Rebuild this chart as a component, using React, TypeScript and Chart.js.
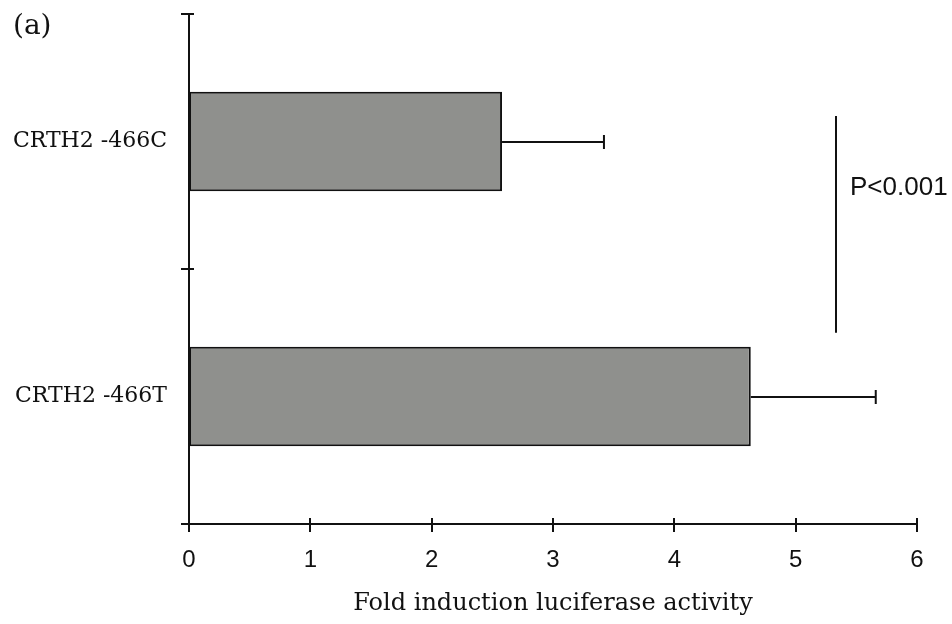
import React, { useEffect, useRef } from "react";
import { Chart, registerables } from "chart.js";

Chart.register(...registerables);

// Promoter constructs and their luciferase readouts (mean ± SD)
const categories = ["CRTH2 -466C", "CRTH2 -466T"];
const foldInduction = [2.58, 4.63];
const errorSD = [0.84, 1.03];
const xTicks = [0, 1, 2, 3, 4, 5, 6];

// Significance bracket between the two constructs
const sigLabel = "P<0.001";
const sigX = 5.33;
const sigFrom = -0.1;
const sigTo = 0.75;
const sigTextAt = 0.18;

const panelLabel = "(a)";
const xTitle = "Fold induction luciferase activity";

const INK = "#111111";

const crossTicksPlugin = {
  id: "crossTicks",
  afterDraw(chart: any) {
    const { ctx, scales } = chart;
    const x = scales.x;
    const y = scales.y;
    ctx.save();
    ctx.strokeStyle = INK;
    ctx.lineWidth = 2;
    // value ticks crossing the horizontal axis
    const yb = chart.chartArea.bottom;
    xTicks.forEach((v) => {
      const px = Math.round(x.getPixelForValue(v));
      ctx.beginPath();
      ctx.moveTo(px, yb - 6);
      ctx.lineTo(px, yb + 8);
      ctx.stroke();
    });
    // category boundaries on the vertical axis
    const xl = chart.chartArea.left;
    for (let i = 0; i <= categories.length; i++) {
      const py = Math.round(y.getPixelForValue(i - 0.5));
      ctx.beginPath();
      ctx.moveTo(xl - 8, py);
      ctx.lineTo(xl + 5, py);
      ctx.stroke();
    }
    ctx.restore();
  },
};

const errorBarsPlugin = {
  id: "errorBars",
  afterDatasetsDraw(chart: any) {
    const { ctx, scales } = chart;
    const x = scales.x;
    const y = scales.y;
    ctx.save();
    ctx.strokeStyle = INK;
    ctx.lineWidth = 2;
    foldInduction.forEach((v, i) => {
      const py = Math.round(y.getPixelForValue(i));
      const x0 = x.getPixelForValue(v);
      const x1 = x.getPixelForValue(v + errorSD[i]);
      ctx.beginPath();
      ctx.moveTo(x0, py);
      ctx.lineTo(x1, py);
      ctx.moveTo(x1, py - 7);
      ctx.lineTo(x1, py + 7);
      ctx.stroke();
    });
    ctx.restore();
  },
};

const annotationsPlugin = {
  id: "annotations",
  afterDraw(chart: any) {
    const { ctx, scales } = chart;
    const x = scales.x;
    const y = scales.y;
    ctx.save();
    const lx = Math.round(x.getPixelForValue(sigX));
    ctx.strokeStyle = INK;
    ctx.lineWidth = 2;
    ctx.beginPath();
    ctx.moveTo(lx, y.getPixelForValue(sigFrom));
    ctx.lineTo(lx, y.getPixelForValue(sigTo));
    ctx.stroke();
    ctx.fillStyle = INK;
    ctx.font = '26px "Liberation Sans", sans-serif';
    ctx.textAlign = "left";
    ctx.textBaseline = "middle";
    ctx.fillText(sigLabel, lx + 14, y.getPixelForValue(sigTextAt));
    ctx.font = '28px "DejaVu Serif", serif';
    ctx.textBaseline = "top";
    ctx.fillText(panelLabel, 13, 13);
    ctx.restore();
  },
};

export default function App() {
  const canvasRef = useRef<HTMLCanvasElement | null>(null);

  useEffect(() => {
    if (!canvasRef.current) return;
    const chart = new Chart(canvasRef.current, {
      type: "bar",
      data: {
        labels: categories,
        datasets: [
          {
            data: foldInduction,
            backgroundColor: "#8f908d",
            borderColor: INK,
            borderWidth: 2,
            borderSkipped: false,
            barPercentage: 0.39,
            categoryPercentage: 1,
          },
        ],
      },
      options: {
        indexAxis: "y",
        animation: false,
        responsive: false,
        events: [],
        layout: { padding: { top: 14, right: 35, left: 0, bottom: 0 } },
        plugins: {
          legend: { display: false },
          tooltip: { enabled: false },
        },
        scales: {
          x: {
            type: "linear",
            min: 0,
            max: 6,
            afterFit(scale: any) {
              scale.height = 100;
              scale.paddingLeft = 0;
              scale.paddingRight = 0;
            },
            afterBuildTicks(scale: any) {
              scale.ticks = xTicks.map((v) => ({ value: v }));
            },
            grid: { display: false, drawTicks: false },
            border: { display: true, color: INK, width: 2 },
            ticks: {
              color: INK,
              padding: 22,
              font: { family: '"Liberation Sans", sans-serif', size: 24 },
            },
            title: {
              display: true,
              text: xTitle,
              color: INK,
              padding: { top: 0, bottom: 6 },
              font: { family: '"DejaVu Serif", serif', size: 24 },
            },
          },
          y: {
            type: "category",
            offset: true,
            afterFit(scale: any) {
              scale.width = 189;
              scale.paddingTop = 0;
              scale.paddingBottom = 0;
            },
            grid: { display: false, drawTicks: false },
            border: { display: true, color: INK, width: 2 },
            ticks: {
              color: INK,
              padding: 22,
              font: { family: '"DejaVu Serif", serif', size: 22 },
            },
          },
        },
      },
      plugins: [errorBarsPlugin, crossTicksPlugin, annotationsPlugin],
    });
    return () => chart.destroy();
  }, []);

  return (
    <div style={{ position: "fixed", left: 0, top: 0, width: 952, height: 624, background: "#ffffff" }}>
      <canvas ref={canvasRef} width={952} height={624} />
    </div>
  );
}
